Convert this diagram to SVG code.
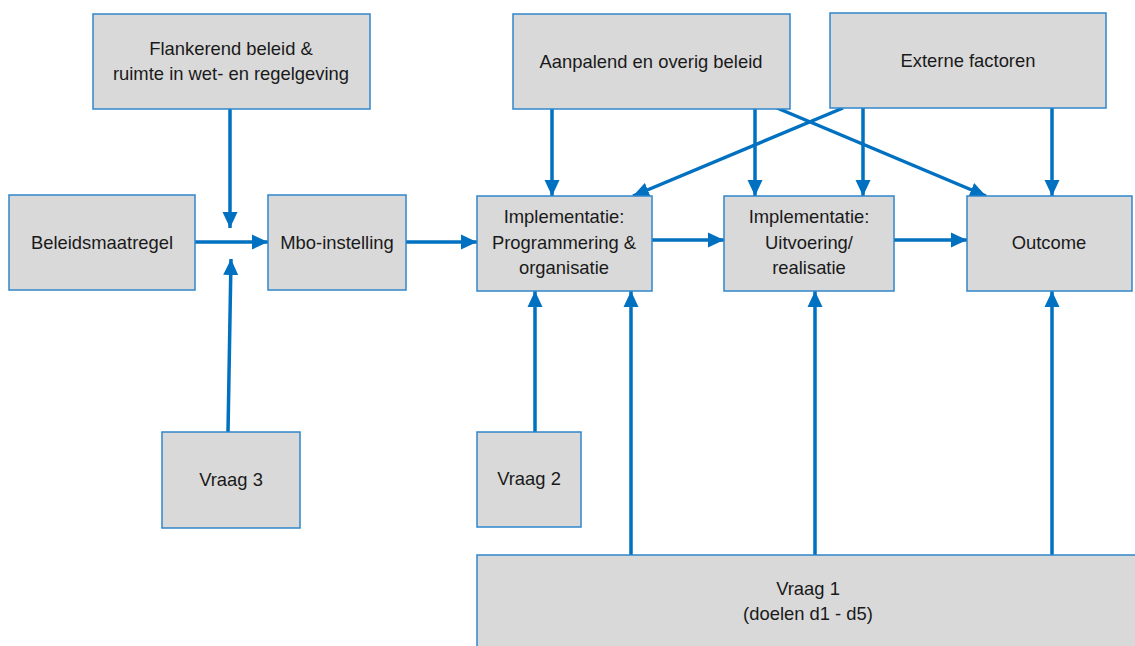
<svg xmlns="http://www.w3.org/2000/svg" width="1135" height="646" viewBox="0 0 1135 646">
<style>
.box{fill:#d9d9d9;stroke:#2f86cc;stroke-width:1.5}
.t{font-family:"Liberation Sans",Arial,sans-serif;font-size:18.4px;fill:#1a1a1a;text-anchor:middle}
.c{stroke:#0070c0;stroke-width:3.5;fill:none;marker-end:url(#ah)}
</style>
<defs>
<marker id="ah" markerUnits="userSpaceOnUse" markerWidth="16" markerHeight="16" viewBox="0 0 16 16" refX="16" refY="8" orient="auto">
<path d="M0,0.5 L16,8 L0,15.5 Z" fill="#0070c0"/>
</marker>
</defs>
<rect width="1135" height="646" fill="#ffffff"/>
<g id="connectors">
<line class="c" x1="230" y1="109" x2="230" y2="228"/>
<line class="c" x1="228" y1="432" x2="231" y2="259"/>
<line class="c" x1="195" y1="242" x2="268" y2="242"/>
<line class="c" x1="406" y1="242" x2="477" y2="242"/>
<line class="c" x1="652" y1="240" x2="724" y2="240"/>
<line class="c" x1="894" y1="240" x2="967" y2="240"/>
<line class="c" x1="552" y1="109" x2="552" y2="196"/>
<line class="c" x1="755" y1="109" x2="755" y2="196"/>
<line class="c" x1="863" y1="108" x2="863" y2="196"/>
<line class="c" x1="1052" y1="108" x2="1052" y2="196"/>
<line class="c" x1="843" y1="108" x2="633" y2="196"/>
<line class="c" x1="777" y1="108" x2="986" y2="196"/>
<line class="c" x1="535" y1="432" x2="535" y2="291"/>
<line class="c" x1="631" y1="555" x2="631" y2="291"/>
<line class="c" x1="815" y1="555" x2="815" y2="291"/>
<line class="c" x1="1052" y1="555" x2="1052" y2="291"/>
</g>
<g id="flankerend">
<rect class="box" x="93" y="14" width="277" height="95"/>
<text class="t" x="231" y="55">Flankerend beleid &amp;</text>
<text class="t" x="231" y="80">ruimte in wet- en regelgeving</text>
</g>
<g id="aanpalend">
<rect class="box" x="513" y="14" width="277" height="95"/>
<text class="t" x="651" y="68">Aanpalend en overig beleid</text>
</g>
<g id="externe">
<rect class="box" x="830" y="13" width="276" height="95"/>
<text class="t" x="968" y="67">Externe factoren</text>
</g>
<g id="beleidsmaatregel">
<rect class="box" x="9" y="195" width="186" height="95"/>
<text class="t" x="102" y="249">Beleidsmaatregel</text>
</g>
<g id="mbo">
<rect class="box" x="268" y="195" width="138" height="95"/>
<text class="t" x="337" y="249">Mbo-instelling</text>
</g>
<g id="impl-prog">
<rect class="box" x="477" y="196" width="175" height="95"/>
<text class="t" x="564" y="223">Implementatie:</text>
<text class="t" x="564" y="249">Programmering &amp;</text>
<text class="t" x="564" y="274">organisatie</text>
</g>
<g id="impl-uitv">
<rect class="box" x="724" y="196" width="170" height="95"/>
<text class="t" x="809" y="223">Implementatie:</text>
<text class="t" x="809" y="249">Uitvoering/</text>
<text class="t" x="809" y="274">realisatie</text>
</g>
<g id="outcome">
<rect class="box" x="967" y="196" width="165" height="95"/>
<text class="t" x="1049" y="249">Outcome</text>
</g>
<g id="vraag3">
<rect class="box" x="162" y="432" width="138" height="96"/>
<text class="t" x="231" y="486">Vraag 3</text>
</g>
<g id="vraag2">
<rect class="box" x="477" y="432" width="104" height="95"/>
<text class="t" x="529" y="485">Vraag 2</text>
</g>
<g id="vraag1">
<rect class="box" x="477" y="555" width="665" height="100"/>
<text class="t" x="808" y="595">Vraag 1</text>
<text class="t" x="808" y="620">(doelen d1 - d5)</text>
</g>
</svg>
